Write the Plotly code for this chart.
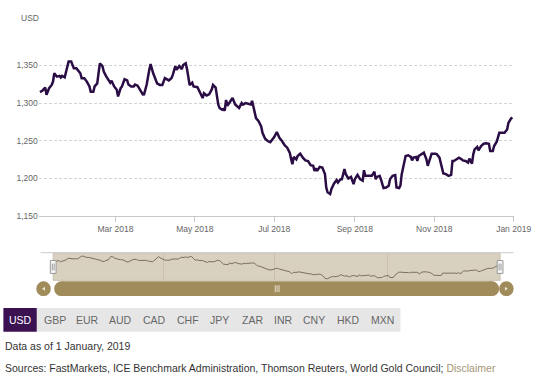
import pandas as pd
import plotly.graph_objects as go

# ---------------- data ----------------
day_offsets = [1,3,5,6,8,10,11,12,14,16,17,18,20,22,23,25,27,29,30,32,
               33,35,37,39,40,42,43,45,46,47,49,50,52,54,55,56,58,60,61,63,
               64,66,68,69,71,73,74,76,78,80,81,83,85,86,88,90,91,93,95,97,
               100,102,103,105,106,108,110,111,113,114,115,116,118,119,122,124,126,127,129,131,
               133,134,136,138,139,141,142,143,144,145,147,149,151,152,154,156,157,159,161,163,
               164,166,167,169,171,172,174,176,178,180,181,183,185,187,189,191,193,194,195,196,
               198,199,201,203,205,207,209,211,212,213,214,216,218,220,221,222,224,225,227,229,
               230,232,233,235,236,238,240,242,243,245,247,249,250,251,254,256,258,259,260,262,
               263,265,267,269,270,272,274,275,277,278,279,281,282,284,286,287,288,290,291,292,
               294,296,297,298,299,301,302,305,306,308,310,311,313,315,317,318,319,321,323,325,
               326,328,330,331,333,334,335,337,338,340,342,344,346,347,349,350,352,354,355,358,
               360,361,363,364]
prices = [1314.5,1316.7,1320.6,1311,1319.7,1324,1328.5,1339.5,1335,1336,
          1333.8,1336,1334,1348,1355,1355,1346,1346,1344,1339.5,
          1333,1333,1328.5,1322,1315,1315,1322,1326,1339.5,1352.6,
          1349,1341.7,1335,1328.5,1327,1329.7,1322,1317.5,1308.8,1319.7,
          1322,1331.6,1330,1324.5,1322,1322,1324.5,1323,1316.7,1311.4,
          1311.6,1324.5,1344,1351.7,1339.5,1328.5,1326,1324,1324,1333,
          1330,1333,1337,1349,1344,1349,1345,1350.4,1352.6,1345,
          1333,1324,1327,1322,1321,1313,1306.6,1313,1310,1311.6,
          1318,1324,1320.6,1298,1293.4,1291,1292,1290,1304,1296.5,
          1301,1306.6,1298,1296.5,1293.4,1300,1298,1300,1299,1298,
          1303,1287,1280,1276,1269,1260.5,1252.6,1249.6,1248,1252.6,
          1255,1261.6,1254,1249.6,1244,1240.8,1234,1225.4,1218.9,1228.5,
          1225.4,1229.8,1232.9,1227.6,1224,1223,1217.5,1216.7,1210,1213.6,
          1210,1215.3,1214.5,1205.7,1188,1181.6,1179.4,1186,1193.4,1197.8,
          1194.7,1199,1199,1212.3,1205.7,1200,1202,1192.5,1199,1204.8,
          1199,1197,1211,1203.5,1203.5,1203.5,1209,1199,1202,1203.5,
          1199,1187.3,1188,1190.4,1199,1203.5,1204.4,1188,1187.3,1190.4,
          1205.7,1221,1229.8,1230.7,1228.5,1224,1227.6,1228.5,1223.2,1229.8,
          1232,1234.2,1229.8,1225.4,1216.7,1229.8,1232.9,1232.9,1232,1227.6,
          1214.5,1206.6,1205.7,1203.5,1204.8,1223.2,1223.2,1225.4,1227.6,1225.4,
          1224,1223.2,1221,1226.3,1219.7,1232,1238.6,1241.7,1237.3,1243,
          1246,1246.5,1246,1236.4,1236.4,1243,1248.7,1260.5,1260.5,1260.5,
          1264.9,1273.7,1279.4,1281.1]

start_date = pd.Timestamp("2018-01-01")
end_date = "2019-01-01"
dates = start_date + pd.to_timedelta(day_offsets, unit="D")

x_tick_dates = ["2018-03-01", "2018-05-01", "2018-07-01", "2018-09-01", "2018-11-01", "2019-01-01"]
x_tick_labels = ["Mar 2018", "May 2018", "Jul 2018", "Sep 2018", "Nov 2018", "Jan 2019"]
y_ticks = [1150, 1200, 1250, 1300, 1350, 1400]
y_tick_labels = ["1,150", "1,200", "1,250", "1,300", "1,350", ""]
nav_grid_dates = ["2018-04-01", "2018-07-01", "2018-10-01"]
currencies = ["USD", "GBP", "EUR", "AUD", "CAD", "CHF", "JPY", "ZAR", "INR", "CNY", "HKD", "MXN"]
data_note = "Data as of 1 January, 2019"
sources_text = "Sources: FastMarkets, ICE Benchmark Administration, Thomson Reuters, World Gold Council; "
disclaimer_text = "Disclaimer"

# ---------------- layout helpers ----------------
W, H = 550, 385
FONT = "Liberation Sans, Arial, sans-serif"
LINE_COLOR = "#2a0d45"
GOLD = "#a08b5a"
BEIGE = "#d9d1bf"


def px(x):
    return x / W


def py(y):
    return 1 - y / H


fig = go.Figure()

fig.add_trace(go.Scatter(x=dates, y=prices, mode="lines",
                         line=dict(color=LINE_COLOR, width=2.5),
                         xaxis="x", yaxis="y", hoverinfo="skip"))
fig.add_trace(go.Scatter(x=dates, y=prices, mode="lines",
                         line=dict(color="#7a6e63", width=1),
                         xaxis="x2", yaxis="y2", hoverinfo="skip"))

shapes = []
annotations = []

# navigator background & outline
shapes.append(dict(type="line", xref="paper", yref="paper", x0=px(42), x1=px(531),
                   y0=py(256), y1=py(256), line=dict(color="#cccccc", width=1)))
shapes.append(dict(type="rect", xref="paper", yref="paper", x0=px(55), x1=px(517),
                   y0=py(256.5), y1=py(284), fillcolor=BEIGE,
                   line=dict(color="#c9c0ad", width=1), layer="below"))

# scrollbar
sb_top, sb_bot = 285, 300
sb_mid = (sb_top + sb_bot) / 2
r = (sb_bot - sb_top) / 2
shapes.append(dict(type="rect", xref="paper", yref="paper", x0=px(56 + r), x1=px(516 - r),
                   y0=py(sb_bot), y1=py(sb_top), fillcolor=GOLD, line=dict(width=0)))
for cx in (56 + r, 516 - r):
    shapes.append(dict(type="circle", xref="paper", yref="paper", x0=px(cx - r), x1=px(cx + r),
                       y0=py(sb_bot), y1=py(sb_top), fillcolor=GOLD, line=dict(width=0)))
for cx in (45, 523.5):
    shapes.append(dict(type="circle", xref="paper", yref="paper", x0=px(cx - r), x1=px(cx + r),
                       y0=py(sb_bot), y1=py(sb_top), fillcolor=GOLD, line=dict(width=0)))
# arrows
shapes.append(dict(type="path", xref="paper", yref="paper",
                   path=f"M {px(43.5)},{py(sb_mid)} L {px(46.5)},{py(sb_mid-2)} L {px(46.5)},{py(sb_mid+2)} Z",
                   fillcolor="#eee6d6", line=dict(width=0)))
shapes.append(dict(type="path", xref="paper", yref="paper",
                   path=f"M {px(525)},{py(sb_mid)} L {px(522)},{py(sb_mid-2)} L {px(522)},{py(sb_mid+2)} Z",
                   fillcolor="#eee6d6", line=dict(width=0)))
# grip
for gx in (284.5, 286.5, 288.5):
    shapes.append(dict(type="line", xref="paper", yref="paper", x0=px(gx), x1=px(gx),
                       y0=py(289), y1=py(296), line=dict(color="#e4dccb", width=1)))

# navigator handles
for hx in (55, 517):
    shapes.append(dict(type="rect", xref="paper", yref="paper", x0=px(hx - 3), x1=px(hx + 3),
                       y0=py(277), y1=py(264), fillcolor="#f8f8f8",
                       line=dict(color="#999999", width=1)))
    for dx in (-1, 1):
        shapes.append(dict(type="line", xref="paper", yref="paper", x0=px(hx + dx), x1=px(hx + dx),
                           y0=py(267), y1=py(274), line=dict(color="#999999", width=1)))

# currency buttons
btn_top, btn_bot = 312, 336
shapes.append(dict(type="rect", xref="paper", yref="paper", x0=px(38), x1=px(414),
                   y0=py(btn_bot), y1=py(btn_top), fillcolor="#e6e6e6", line=dict(width=0)))
shapes.append(dict(type="rect", xref="paper", yref="paper", x0=px(3.5), x1=px(38),
                   y0=py(btn_bot), y1=py(btn_top), fillcolor="#3b1152", line=dict(width=0)))
button_centers = [21, 57, 90.6, 125, 160, 194.6, 227, 261, 293, 325, 360, 395]
for i, (cur, cx) in enumerate(zip(currencies, button_centers)):
    annotations.append(dict(text=cur, xref="paper", yref="paper", x=px(cx), y=py(324.5),
                            xanchor="center", yanchor="middle", showarrow=False,
                            font=dict(family=FONT, size=10.5,
                                      color="#ffffff" if i == 0 else "#666666")))

# footer texts
annotations.append(dict(text=data_note, xref="paper", yref="paper", x=px(3), y=py(351),
                        xanchor="left", yanchor="middle", showarrow=False,
                        font=dict(family=FONT, size=10.5, color="#333333")))
annotations.append(dict(text=sources_text + f'<span style="color:#a39574">{disclaimer_text}</span>',
                        xref="paper", yref="paper", x=px(3), y=py(373),
                        xanchor="left", yanchor="middle", showarrow=False,
                        font=dict(family=FONT, size=10.5, color="#333333")))
# y axis title
annotations.append(dict(text="USD", xref="paper", yref="paper", x=px(19.5), y=py(18),
                        xanchor="left", yanchor="middle", showarrow=False,
                        font=dict(family=FONT, size=8.5, color="#666666")))

fig.update_layout(
    width=W, height=H,
    margin=dict(l=0, r=0, t=0, b=0),
    paper_bgcolor="white", plot_bgcolor="rgba(0,0,0,0)",
    showlegend=False, hovermode=False,
    font=dict(family=FONT, size=8.5, color="#666666"),
    xaxis=dict(domain=[px(40), px(531)], range=[start_date, end_date], type="date",
               tickvals=x_tick_dates, ticktext=x_tick_labels,
               showgrid=False, zeroline=False,
               showline=True, linecolor="#c8c8c8", linewidth=1,
               ticks="outside", ticklen=5, tickcolor="#c8c8c8",
               tickfont=dict(family=FONT, size=8.5, color="#666666"),
               anchor="y", fixedrange=True),
    yaxis=dict(domain=[py(219), py(28)], range=[1150, 1400],
               tickvals=y_ticks, ticktext=y_tick_labels,
               showgrid=True, gridcolor="#d4d4d4", griddash="3px,2px", gridwidth=1,
               zeroline=False, showline=False, ticks="",
               tickfont=dict(family=FONT, size=8.5, color="#666666"),
               anchor="x", fixedrange=True),
    xaxis2=dict(domain=[px(55), px(517)], range=[start_date, end_date], type="date",
                tickvals=nav_grid_dates, showticklabels=False, ticks="",
                showgrid=True, gridcolor="#c9c0ac", gridwidth=1,
                zeroline=False, showline=False, anchor="y2", fixedrange=True),
    yaxis2=dict(domain=[py(283.5), py(256.5)], range=[1171, 1379], visible=False,
                anchor="x2", fixedrange=True),
    shapes=shapes,
    annotations=annotations,
)

page_fix = ("document.documentElement.style.margin='0';"
            "document.documentElement.style.overflow='hidden';"
            "document.body.style.margin='0';"
            "document.body.style.padding='0';"
            "document.body.style.overflow='hidden';")
fig.write_html("out.html", post_script=page_fix, config={"displayModeBar": False})
